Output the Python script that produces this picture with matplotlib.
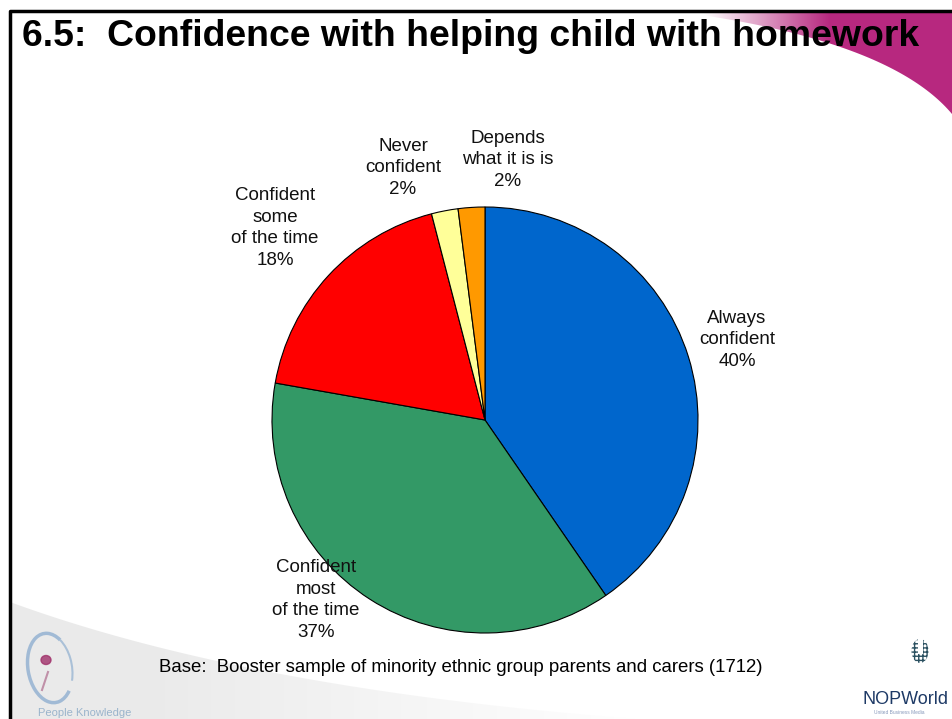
import numpy as np
import matplotlib.pyplot as plt
from matplotlib.patches import Polygon, Ellipse, Arc, Rectangle

plt.rcParams['font.family'] = ['Liberation Sans', 'DejaVu Sans']

# survey answers, percent of respondents
categories = ['Always\nconfident', 'Confident\nmost\nof the time', 'Confident\nsome\nof the time',
              'Never\nconfident', 'Depends\nwhat it is is']
values = [40, 37, 18, 2, 2]
colors = ['#0066CC', '#339966', '#FF0000', '#FFFF99', '#FF9900']

title = '6.5:  Confidence with helping child with homework'
base_note = 'Base:  Booster sample of minority ethnic group parents and carers (1712)'

W, H = 952, 719
fig = plt.figure(figsize=(W / 100, H / 100), dpi=100)
ax = fig.add_axes([0, 0, 1, 1])

# slide background shapes
def gradient_fill(poly_pts, rgb, x0, x1, alpha_max, reverse=False):
    patch = Polygon(poly_pts, closed=True, facecolor='none', edgecolor='none')
    ax.add_patch(patch)
    xs = np.linspace(0, W, 400)
    a = np.clip((xs - x0) / (x1 - x0), 0, 1)
    if reverse:
        a = 1 - a
    img = np.zeros((2, len(xs), 4))
    img[..., :3] = rgb
    img[..., 3] = a * alpha_max
    im = ax.imshow(img, extent=(0, W, H, 0), aspect='auto', zorder=0, interpolation='bilinear')
    im.set_clip_path(patch)

# magenta swoosh top right
t = np.linspace(0, 1, 60)
cx = (1 - t) ** 2 * 680 + 2 * (1 - t) * t * 890 + t ** 2 * 952
cy = (1 - t) ** 2 * 12 + 2 * (1 - t) * t * 40 + t ** 2 * 114
top = np.column_stack([cx, cy])
pts = np.vstack([[[680, 12]], top, [[952, 12]]])
gradient_fill(pts, (0.72, 0.16, 0.50), 705, 830, 1.0)

# grey swoosh bottom left
cx = (1 - t) ** 2 * 10 + 2 * (1 - t) * t * 250 + t ** 2 * 640
cy = (1 - t) ** 2 * 602 + 2 * (1 - t) * t * 690 + t ** 2 * 719
pts = np.vstack([[[10, 719]], np.column_stack([cx, cy])])
gradient_fill(pts, (0.91, 0.91, 0.91), 150, 640, 0.9, reverse=True)

# slide frame
ax.plot([10, 10, W], [719, 11, 11], color='black', lw=2.5, solid_capstyle='butt', zorder=5)

# pie chart, clockwise from 12 o'clock (y axis runs downwards)
ax.pie(values, colors=colors, startangle=-90, counterclock=True,
       center=(485, 420), radius=213,
       wedgeprops=dict(edgecolor='black', linewidth=0.8))

label_pos = [(737, 340), (316, 600), (275, 228), (403, 168), (508, 160)]
for name, v, (x, y) in zip(categories, values, label_pos):
    ax.text(x, y, f'{name}\n{v}%', ha='center', va='center', multialignment='center',
            fontsize=13.5, linespacing=1.38, color='#111111', zorder=6)

ax.text(22, 37, title, fontsize=26.9, fontweight='bold', ha='left', va='center', zorder=6)
ax.text(461, 668, base_note, fontsize=13.4, ha='center', va='center', zorder=6)

# People Knowledge logo
ax.add_patch(Arc((50, 668), 44, 70, angle=-10, theta1=60, theta2=300,
                 color='#8FAFD0', lw=2.5, alpha=0.8, zorder=2))
ax.add_patch(Arc((50, 668), 44, 70, angle=-10, theta1=-60, theta2=40,
                 color='#8FAFD0', lw=1.5, alpha=0.7, zorder=2))
ax.add_patch(Ellipse((46, 660), 10, 9, color='#A0306A', alpha=0.8, zorder=2))
ax.plot([48, 42], [672, 690], color='#C090A8', lw=1.5, zorder=2)
ax.text(38, 713, 'People Knowledge', fontsize=8, color='#9AB4CC', ha='left', va='center', zorder=2)

# NOP World logo
ax.add_patch(Ellipse((920, 651), 17, 24, facecolor='none', edgecolor='#2A5060',
                     hatch='++++', lw=0, zorder=2))
ax.add_patch(Rectangle((917.5, 637), 5, 17, facecolor='white', edgecolor='none', zorder=3))
ax.text(862, 699, 'NOPWorld', fontsize=13, color='#1E3A66', ha='left', va='center', zorder=2)
ax.text(874, 713, 'United Business Media', fontsize=3.5, color='#8899BB', ha='left', va='center', zorder=2)

ax.set_xlim(0, W)
ax.set_ylim(H, 0)
ax.set_aspect('equal')
ax.axis('off')

fig.savefig('out.png', dpi=100)
